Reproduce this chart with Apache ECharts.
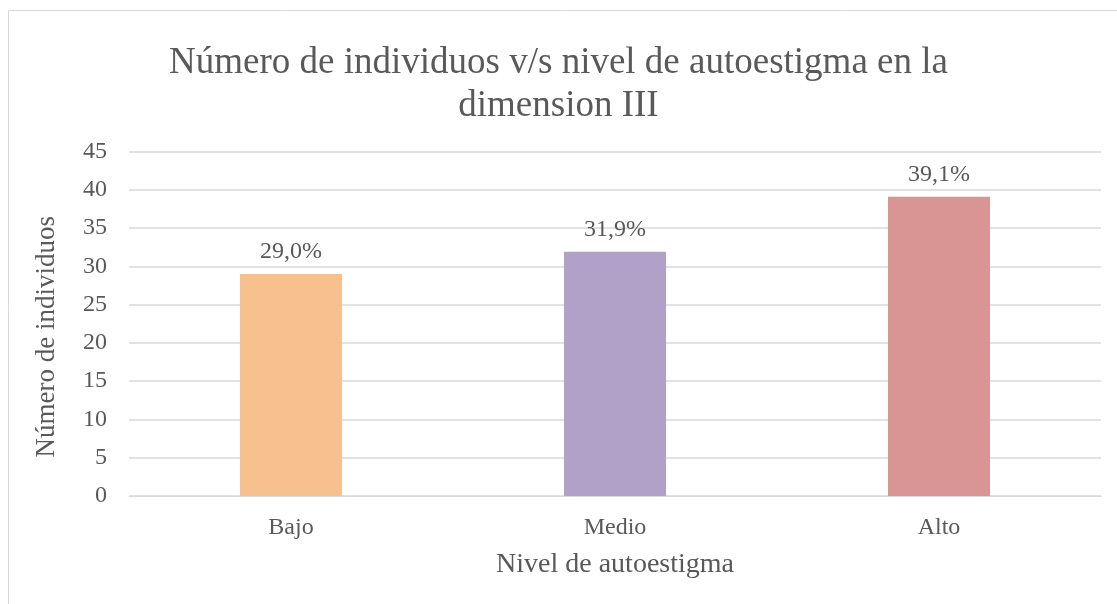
<!DOCTYPE html>
<html>
<head>
<meta charset="utf-8">
<script src="https://cdn.jsdelivr.net/npm/echarts@6/dist/echarts.min.js"></script>
<style>
  html, body { margin: 0; padding: 0; background: #fff; }
  #chart { width: 1117px; height: 604px; }
</style>
</head>
<body>
<div id="chart"></div>
<script>
// datos del gráfico
var categorias = ['Bajo', 'Medio', 'Alto'];
var valores = [29.0, 31.9, 39.1];
var colores = ['#F9C08F', '#B1A0C7', '#D99594'];
var yTicks = [0, 5, 10, 15, 20, 25, 30, 35, 40, 45];

(function () {
  var ink = '#595959';
  var rule = '#D9D9D9';
  var font = '"Liberation Serif", "DejaVu Serif", serif';

  var chart = echarts.init(document.getElementById('chart'), null, { renderer: 'canvas' });
  chart.setOption({
    animation: false,
    backgroundColor: '#fff',
    textStyle: { fontFamily: font },
    graphic: [{
      type: 'rect',
      shape: { x: 8.5, y: 10.5, width: 1200, height: 700 },
      style: { fill: 'none', stroke: rule, lineWidth: 1 },
      silent: true
    }],
    title: {
      text: 'Número de individuos v/s nivel de autoestigma en la\ndimension III',
      left: 'center',
      top: 37,
      textStyle: {
        color: ink,
        fontFamily: font,
        fontWeight: 'normal',
        fontSize: 37,
        lineHeight: 43,
        align: 'center'
      }
    },
    grid: { left: 129, right: 16, top: 151.5, bottom: 108, containLabel: false },
    xAxis: {
      type: 'category',
      data: categorias,
      name: 'Nivel de autoestigma',
      nameLocation: 'middle',
      nameGap: 55,
      nameTextStyle: { color: ink, fontSize: 28, fontFamily: font },
      axisLine: { lineStyle: { color: rule } },
      axisTick: { show: false },
      axisLabel: { color: ink, fontSize: 24, margin: 20, fontFamily: font }
    },
    yAxis: {
      type: 'value',
      min: yTicks[0],
      max: yTicks[yTicks.length - 1],
      interval: 5,
      name: 'Número de individuos',
      nameLocation: 'middle',
      nameGap: 69,
      nameTextStyle: { color: ink, fontSize: 27, fontFamily: font, padding: [0, 26, 0, 0] },
      axisLine: { show: false },
      axisTick: { show: false },
      axisLabel: { color: ink, fontSize: 24, margin: 22, fontFamily: font },
      splitLine: { lineStyle: { color: rule, width: 1.5 } }
    },
    series: [{
      type: 'bar',
      barWidth: '31.5%',
      data: valores.map(function (v, i) {
        return { value: v, itemStyle: { color: colores[i] } };
      }),
      label: {
        show: true,
        position: 'top',
        distance: 10,
        color: ink,
        fontSize: 24,
        fontFamily: font,
        formatter: function (p) { return p.value.toFixed(1).replace('.', ',') + '%'; }
      }
    }]
  });
})();
</script>
</body>
</html>
